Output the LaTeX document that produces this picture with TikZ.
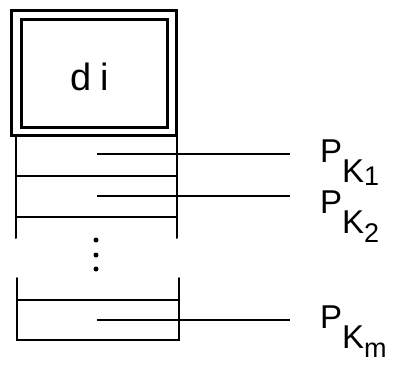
\documentclass[tikz,border=0pt]{standalone}
\usepackage{fontspec}
\setmainfont{Liberation Sans}
\begin{document}
\begin{tikzpicture}[x=1pt,y=-1pt,
  frame/.style={line width=3pt},
  cell/.style={line width=2pt, line cap=round},
  leader/.style={line width=1.6pt},
  lbl/.style={anchor=base west, inner sep=0pt, font=\fontsize{33}{33}\selectfont},
  dotmark/.style={circle, fill=black, inner sep=0pt, minimum size=5pt}]
\useasboundingbox (0,0) rectangle (399,367);
% top register box
\draw[frame] (11,10) rectangle (176,135);
\draw[frame] (21,19) rectangle (167,127);
\node[anchor=base, inner sep=0pt, font=\fontsize{38}{38}\selectfont] (di) at (89.5,90) {d\hspace{9pt}i};
% upper cells
\draw[cell] (16,135) -- (16,238);
\draw[cell] (177,135) -- (177,238);
\draw[cell] (16,176) -- (177,176);
\draw[cell] (16,217) -- (177,217);
% dots
\node[dotmark] (d1) at (96,240) {};
\node[dotmark] (d2) at (96,255) {};
\node[dotmark] (d3) at (96,269) {};
% lower cell
\draw[cell] (17,278) -- (17,340) -- (179,340) -- (179,278);
\draw[cell] (17,300) -- (179,300);
% labels
\node[lbl] (p1) at (320,162) {P\raisebox{-20pt}{K}\raisebox{-23pt}{\fontsize{27}{27}\selectfont 1}};
\node[lbl] (p2) at (320,213) {P\raisebox{-20pt}{K}\raisebox{-29pt}{\fontsize{27}{27}\selectfont 2}};
\node[lbl] (pm) at (320,328) {P\raisebox{-20pt}{K}\raisebox{-29pt}{\fontsize{27}{27}\selectfont m}};
% leaders
\coordinate (s1) at (97,154);
\coordinate (s2) at (97,196);
\coordinate (sm) at (97,320);
\coordinate (e1) at (290,154);
\coordinate (e2) at (290,196);
\coordinate (em) at (290,320);
\draw[leader] (s1) -- (e1);
\draw[leader] (s2) -- (e2);
\draw[leader] (sm) -- (em);
\end{tikzpicture}
\end{document}
